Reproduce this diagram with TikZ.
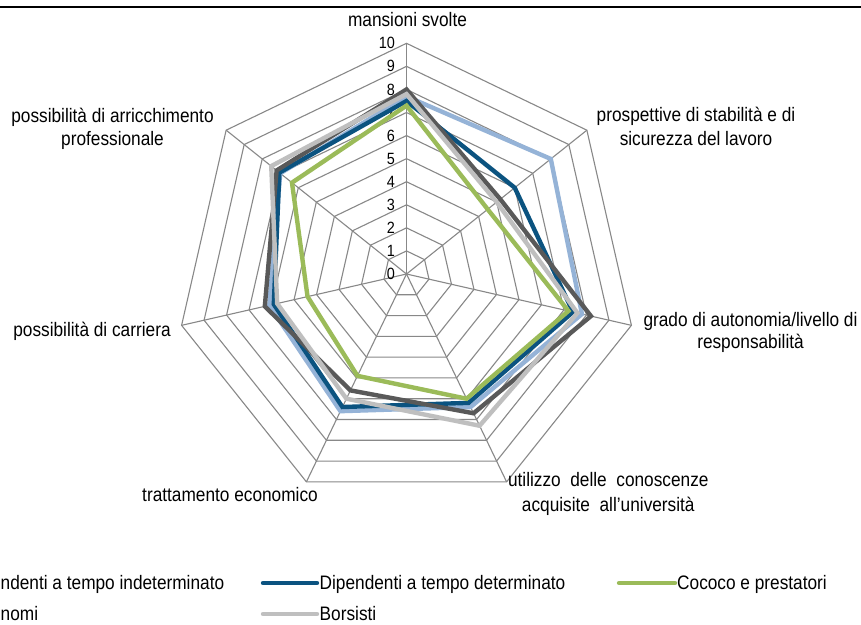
\documentclass[tikz,border=0pt]{standalone}
\usepackage{fontspec}
\setmainfont[FakeStretch=0.885]{Liberation Sans}
\definecolor{gridgray}{HTML}{888888}
\definecolor{cIndet}{HTML}{95B3D7}
\definecolor{cDet}{HTML}{0B5380}
\definecolor{cCoco}{HTML}{9BBB59}
\definecolor{cAuto}{HTML}{595959}
\definecolor{cBors}{HTML}{BFBFBF}
\def\U{23.07}
\newcommand\radarpoly[8]{\draw[#1] (90:{#2*\U}) -- ({90-360/7}:{#3*\U}) -- ({90-2*360/7}:{#4*\U}) -- ({90-3*360/7}:{#5*\U}) -- ({90-4*360/7}:{#6*\U}) -- ({90-5*360/7}:{#7*\U}) -- ({90-6*360/7}:{#8*\U}) -- cycle;}
\begin{document}
\begin{tikzpicture}[x=1pt,y=-1pt,
  font=\fontsize{19.5}{22}\selectfont,
  gridline/.style={draw=gridgray, line width=1.1pt},
  ser/.style={line width=4.4pt},
  sIndet/.style={ser, draw=cIndet},
  sDet/.style={ser, draw=cDet},
  sCoco/.style={ser, draw=cCoco},
  sAuto/.style={ser, draw=cAuto},
  sBors/.style={ser, draw=cBors},
  legline/.style={line cap=round},
  lab/.style={anchor=base, inner sep=0pt, text=black},
  legtext/.style={anchor=base west, inner sep=0pt, text=black},
  ticklab/.style={anchor=east, inner sep=0pt, text=black, font=\fontsize{16.3}{16}\selectfont}]
\useasboundingbox (0,0) rectangle (861,624);
\clip (0,0) rectangle (861,624);
\fill[white] (0,0) rectangle (861,624);
\draw[line width=2pt] (0,6.5) -- (861,6.5);
\begin{scope}[shift={(406.5,274)}, yscale=-1]
  \foreach \i in {1,...,10} {
    \draw[gridline] (90:{\i*\U}) \foreach \k in {1,...,6} { -- ({90-\k*360/7}:{\i*\U}) } -- cycle;
  }
  \foreach \k in {0,...,6} {
    \draw[gridline] (0,0) -- ({90-\k*360/7}:{10*\U});
  }
  \foreach \i in {0,...,10} {
    \node[ticklab] (t\i) at (-11.5,{\i*\U}) {\i};
  }
  \radarpoly{sIndet}{7.7}{8.0}{7.8}{6.4}{6.6}{6.1}{7.0}
  \radarpoly{sDet}{7.5}{6.0}{7.4}{6.2}{6.4}{5.9}{7.05}
  \radarpoly{sCoco}{7.3}{4.5}{7.2}{6.0}{4.9}{4.4}{6.35}
  \radarpoly{sAuto}{8.0}{5.2}{8.2}{6.7}{5.6}{6.3}{7.2}
  \radarpoly{sBors}{7.8}{5.0}{7.6}{7.3}{6.0}{5.75}{7.5}
\end{scope}
% category labels
\node[lab] (l0) at (407.5,26.7) {mansioni svolte};
\node[lab] (l1a) at (696,121.5) {prospettive di stabilità e di};
\node[lab] (l1b) at (696,145) {sicurezza del lavoro};
\node[lab] (l2a) at (750.5,326.7) {grado di autonomia/livello di};
\node[lab] (l2b) at (750.5,348.5) {responsabilità};
\node[lab] (l3a) at (608.3,486.7) {utilizzo\ \ delle\ \ conoscenze};
\node[lab] (l3b) at (608.3,511.5) {acquisite\ \ all’università};
\node[lab] (l4) at (230,501) {trattamento economico};
\node[lab] (l5) at (92,336) {possibilità di carriera};
\node[lab] (l6a) at (112.5,122) {possibilità di arricchimento};
\node[lab] (l6b) at (112.5,145.5) {professionale};
% legend
\coordinate (g1a) at (-93,583); \coordinate (g1b) at (-37,583);
\draw[sIndet,legline] (g1a) -- (g1b);
\node[legtext] (g1t) at (-35,589) {Dipendenti a tempo indeterminato};
\coordinate (g2a) at (263,583); \coordinate (g2b) at (317,583);
\draw[sDet,legline] (g2a) -- (g2b);
\node[legtext] (g2t) at (319.5,589) {Dipendenti a tempo determinato};
\coordinate (g3a) at (619,583); \coordinate (g3b) at (675,583);
\draw[sCoco,legline] (g3a) -- (g3b);
\node[legtext] (g3t) at (677,589) {Cococo e prestatori};
\coordinate (g4a) at (-93,614); \coordinate (g4b) at (-37,614);
\draw[sAuto,legline] (g4a) -- (g4b);
\node[legtext] (g4t) at (-35,620) {Autonomi};
\coordinate (g5a) at (263,614); \coordinate (g5b) at (317,614);
\draw[sBors,legline] (g5a) -- (g5b);
\node[legtext] (g5t) at (319.5,620) {Borsisti};
\end{tikzpicture}
\end{document}
